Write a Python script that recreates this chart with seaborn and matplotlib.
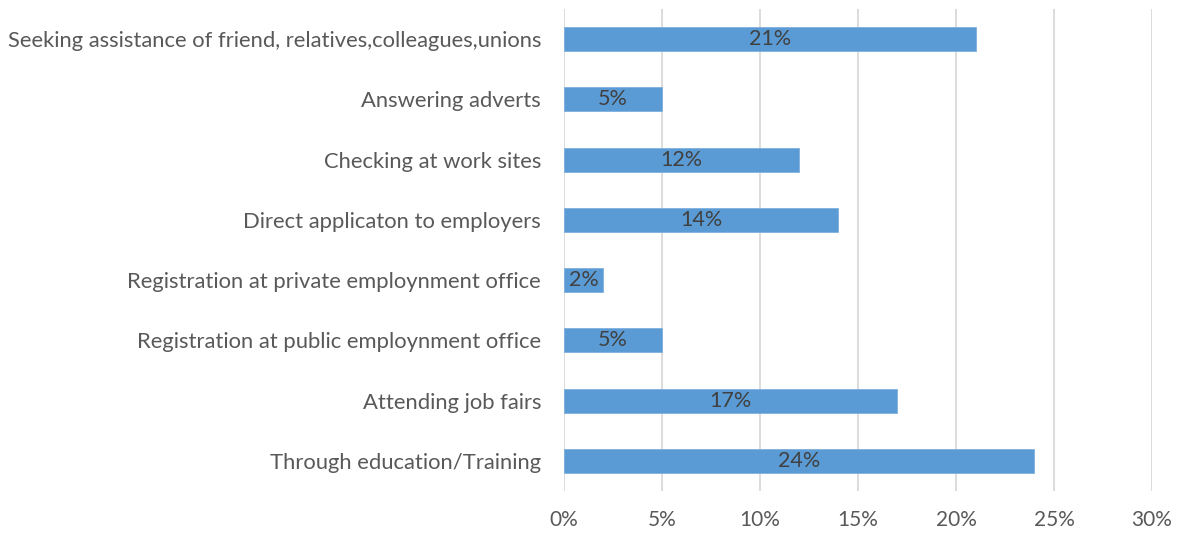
import matplotlib
matplotlib.use("Agg")
import matplotlib.pyplot as plt
import seaborn as sns
import pandas as pd

categories = [
    "Seeking assistance of friend, relatives,colleagues,unions",
    "Answering adverts",
    "Checking at work sites",
    "Direct applicaton to employers",
    "Registration at private employnment office",
    "Registration at public employnment office",
    "Attending job fairs",
    "Through education/Training",
]
shares = [21, 5, 12, 14, 2, 5, 17, 24]
xticks = [0, 5, 10, 15, 20, 25, 30]
xtick_labels = ["0%", "5%", "10%", "15%", "20%", "25%", "30%"]

df = pd.DataFrame({"method": categories, "share": shares})

sns.set_theme(style="white")
plt.rcParams["font.family"] = ["Lato", "DejaVu Sans"]

fig = plt.figure(figsize=(11.78, 5.33), dpi=100)
ax = fig.add_axes([0.4788, 0.079, 0.4992, 0.904])

sns.barplot(data=df, x="share", y="method", orient="h", color="#5B9BD5",
            saturation=1, width=0.4, ax=ax, edgecolor="#7fb0de", linewidth=0.6)

ax.set_xlim(0, 30)
ax.set_xticks(xticks)
ax.set_xticklabels(xtick_labels)
ax.set_xlabel("")
ax.set_ylabel("")
ax.grid(axis="x", color="#d9d9d9", linewidth=1.3)
ax.set_axisbelow(True)
for s in ax.spines.values():
    s.set_visible(False)
ax.tick_params(axis="y", length=0, labelsize=15.8, colors="#595959", pad=16.5)
ax.tick_params(axis="x", length=0, labelsize=15, colors="#595959", pad=14)

for container in ax.containers:
    ax.bar_label(container, labels=[f"{v}%" for v in shares], label_type="center",
                 fontsize=15.5, color="#404040")

fig.savefig("out.png", dpi=100)
